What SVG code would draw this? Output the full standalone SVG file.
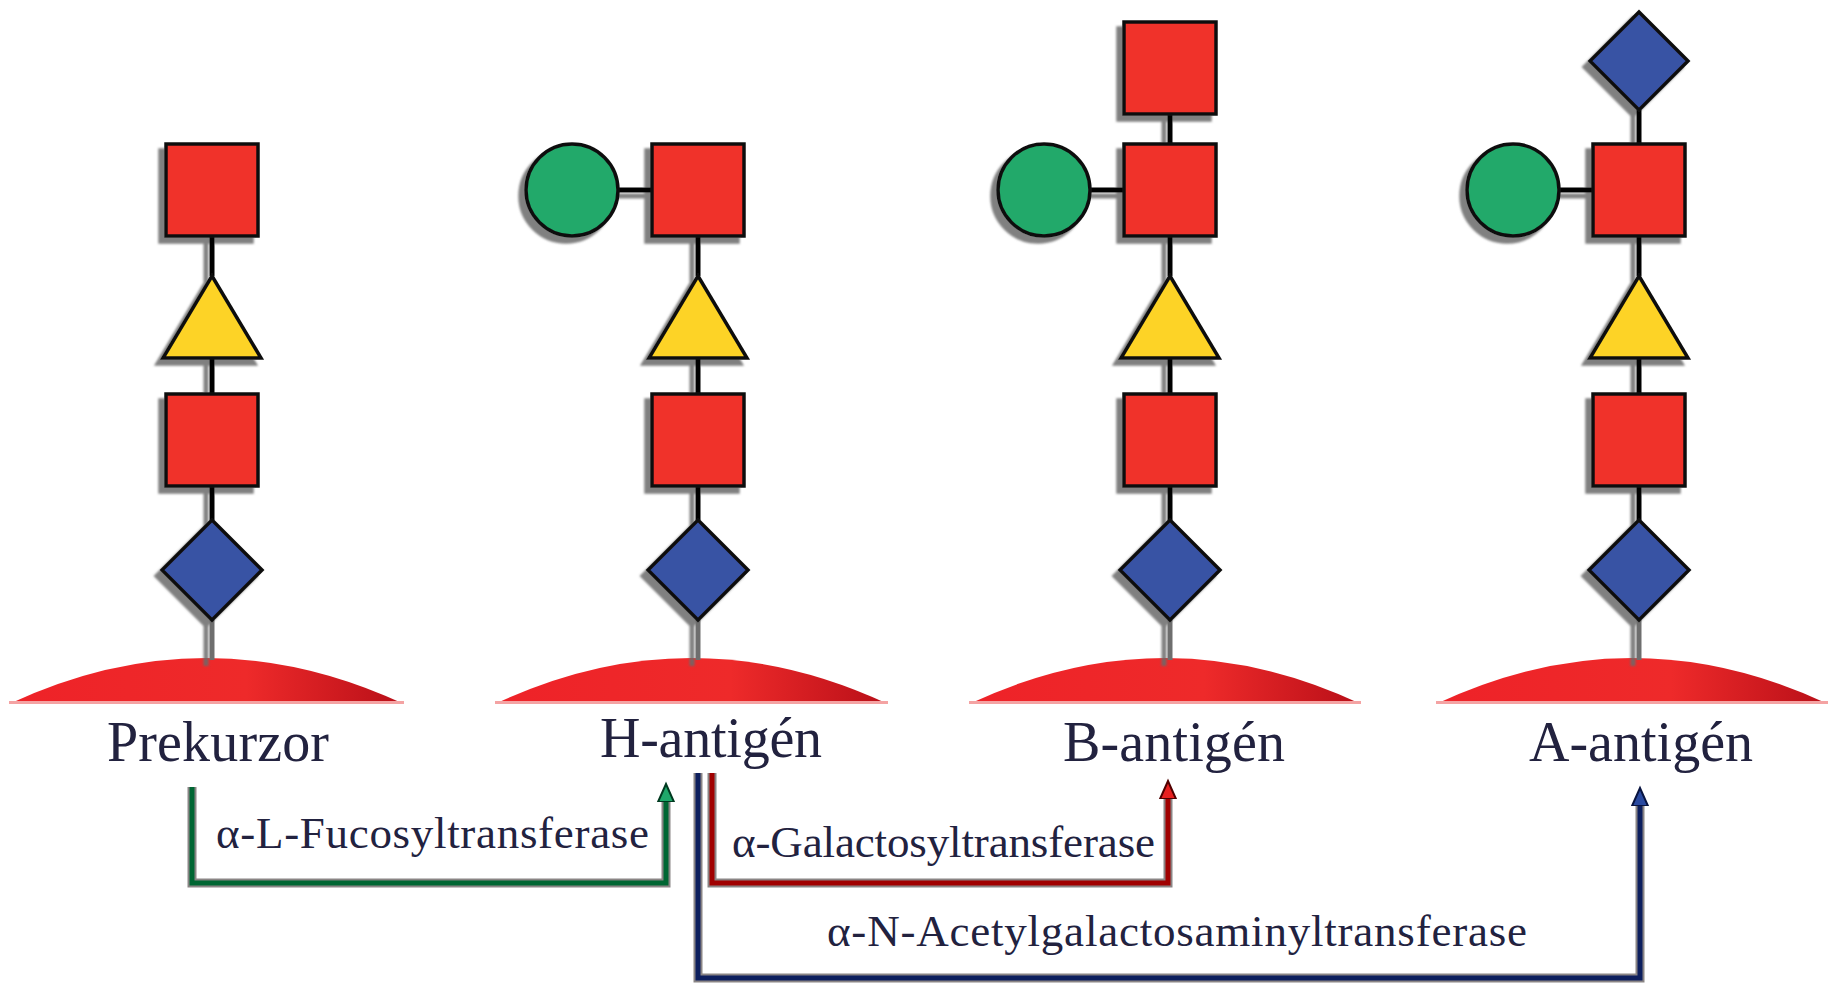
<svg xmlns="http://www.w3.org/2000/svg" width="1831" height="984" viewBox="0 0 1831 984">
<style>
.sq{fill:#f0302b;stroke:#111;stroke-width:3.5}
.tri{fill:#fdd325;stroke:#111;stroke-width:3.5;stroke-linejoin:miter}
.dia{fill:#3953a4;stroke:#111;stroke-width:3.5}
.cir{fill:#22a96b;stroke:#111;stroke-width:3.5}
.bond{stroke:#000;stroke-width:5;fill:none}
.bond2{stroke:#6e6e6e;stroke-width:5;fill:none}
.dome{fill:url(#dg)}
.lbl{font-family:"Liberation Serif","Times New Roman",serif;font-size:56px;fill:#22223f;text-anchor:middle}
.enz{font-family:"Liberation Serif","Times New Roman",serif;font-size:45px;fill:#22223f}
.under{stroke:#8a8585;stroke-width:9;fill:none}
.cg{stroke:#006633;stroke-width:5;fill:none}
.cr{stroke:#a00000;stroke-width:5;fill:none}
.cb{stroke:#0d1f5e;stroke-width:5;fill:none}
</style>
<defs>
<filter id="sh" x="-20%" y="-20%" width="140%" height="140%">
<feGaussianBlur in="SourceAlpha" stdDeviation="0.8"/>
<feOffset dx="-6" dy="6" result="o"/>
<feFlood flood-color="#6a6a6a" flood-opacity="0.85"/>
<feComposite in2="o" operator="in"/>
<feMerge><feMergeNode/><feMergeNode in="SourceGraphic"/></feMerge>
</filter>
<linearGradient id="dg" x1="0" y1="0" x2="1" y2="0">
<stop offset="0" stop-color="#ee2228"/>
<stop offset="0.6" stop-color="#ee2a2a"/>
<stop offset="1" stop-color="#b80f18"/>
</linearGradient>
<marker id="ag" markerUnits="userSpaceOnUse" markerWidth="24" markerHeight="24" viewBox="0 0 24 24" refX="2" refY="10" orient="auto">
<path d="M0,2 L18,10 L0,18 z" fill="#1fa86a" stroke="#003a20" stroke-width="2"/>
</marker>
<marker id="ar" markerUnits="userSpaceOnUse" markerWidth="24" markerHeight="24" viewBox="0 0 24 24" refX="2" refY="10" orient="auto">
<path d="M0,2 L18,10 L0,18 z" fill="#e82020" stroke="#500000" stroke-width="2"/>
</marker>
<marker id="ab" markerUnits="userSpaceOnUse" markerWidth="24" markerHeight="24" viewBox="0 0 24 24" refX="2" refY="10" orient="auto">
<path d="M0,2 L18,10 L0,18 z" fill="#2a4aa0" stroke="#081440" stroke-width="2"/>
</marker>
</defs>
<rect width="1831" height="984" fill="#fff"/>

<!-- Prekurzor -->
<g id="prekurzor">
<path class="dome" d="M9 704 Q206 612 404 704 Z"/>
<rect x="9" y="701" width="395" height="3" fill="#f4a3a3"/>
<g filter="url(#sh)">
<path class="bond" d="M212 236V276M212 358V394M212 486V520"/>
<path class="bond2" d="M212 620V660"/>
<rect id="p-gal" class="sq" x="166" y="144" width="92" height="92"/>
<polygon id="p-tri" class="tri" points="212,276 261,358 163,358"/>
<rect id="p-sq2" class="sq" x="166" y="394" width="92" height="92"/>
<polygon id="p-dia" class="dia" points="212,520 262,570 212,620 162,570"/>
</g>
<text class="lbl" x="218" y="761" textLength="222">Prekurzor</text>
</g>

<!-- H-antigen -->
<g id="h-antigen">
<path class="dome" d="M495 704 Q691 612 888 704 Z"/>
<rect x="495" y="701" width="393" height="3" fill="#f4a3a3"/>
<g filter="url(#sh)">
<path class="bond" d="M698 236V276M698 358V394M698 486V520M618 190H652"/>
<path class="bond2" d="M698 620V660"/>
<circle id="h-fuc" class="cir" cx="572" cy="190" r="46"/>
<rect id="h-gal" class="sq" x="652" y="144" width="92" height="92"/>
<polygon id="h-tri" class="tri" points="698,276 747,358 649,358"/>
<rect id="h-sq2" class="sq" x="652" y="394" width="92" height="92"/>
<polygon id="h-dia" class="dia" points="698,520 748,570 698,620 648,570"/>
</g>
<text class="lbl" x="711" y="757" textLength="222">H-antigén</text>
</g>

<!-- B-antigen -->
<g id="b-antigen">
<path class="dome" d="M969 704 Q1165 612 1361 704 Z"/>
<rect x="969" y="701" width="392" height="3" fill="#f4a3a3"/>
<g filter="url(#sh)">
<path class="bond" d="M1170 114V144M1170 236V276M1170 358V394M1170 486V520M1090 190H1124"/>
<path class="bond2" d="M1170 620V660"/>
<rect id="b-gal2" class="sq" x="1124" y="22" width="92" height="92"/>
<circle id="b-fuc" class="cir" cx="1044" cy="190" r="46"/>
<rect id="b-gal" class="sq" x="1124" y="144" width="92" height="92"/>
<polygon id="b-tri" class="tri" points="1170,276 1219,358 1121,358"/>
<rect id="b-sq2" class="sq" x="1124" y="394" width="92" height="92"/>
<polygon id="b-dia" class="dia" points="1170,520 1220,570 1170,620 1120,570"/>
</g>
<text class="lbl" x="1174" y="761" textLength="222">B-antigén</text>
</g>

<!-- A-antigen -->
<g id="a-antigen">
<path class="dome" d="M1436 704 Q1632 612 1828 704 Z"/>
<rect x="1436" y="701" width="392" height="3" fill="#f4a3a3"/>
<g filter="url(#sh)">
<path class="bond" d="M1639 110V144M1639 236V276M1639 358V394M1639 486V520M1559 190H1593"/>
<path class="bond2" d="M1639 620V660"/>
<polygon id="a-galnac" class="dia" points="1639,12 1688,61 1639,110 1590,61"/>
<circle id="a-fuc" class="cir" cx="1513" cy="190" r="46"/>
<rect id="a-gal" class="sq" x="1593" y="144" width="92" height="92"/>
<polygon id="a-tri" class="tri" points="1639,276 1688,358 1590,358"/>
<rect id="a-sq2" class="sq" x="1593" y="394" width="92" height="92"/>
<polygon id="a-dia" class="dia" points="1639,520 1689,570 1639,620 1589,570"/>
</g>
<text class="lbl" x="1641" y="761" textLength="224">A-antigén</text>
</g>

<!-- connectors -->
<g id="connectors">
<path class="under" d="M192 787V883H666V800"/>
<path class="under" d="M698 773V978H1640V804"/>
<path class="under" d="M712 773V883H1168V797"/>
<path id="c-fuc" class="cg" d="M192 787V883H666V800" marker-end="url(#ag)"/>
<path id="c-galnac" class="cb" d="M698 773V978H1640V804" marker-end="url(#ab)"/>
<path id="c-gal" class="cr" d="M712 773V883H1168V797" marker-end="url(#ar)"/>
<text class="enz" x="216" y="848" textLength="433">α-L-Fucosyltransferase</text>
<text class="enz" x="732" y="857" textLength="423">α-Galactosyltransferase</text>
<text class="enz" x="827" y="946" textLength="700">α-N-Acetylgalactosaminyltransferase</text>
</g>
</svg>
